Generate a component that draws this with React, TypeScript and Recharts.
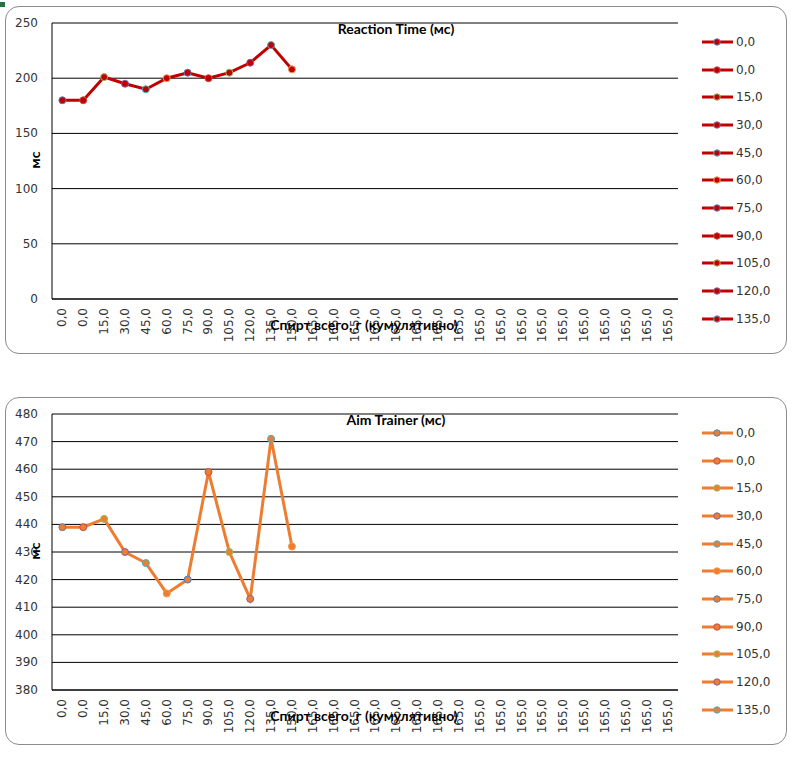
import { LineChart, Line, XAxis, YAxis, CartesianGrid, Legend } from 'recharts';

const categories = [
  '0,0', '0,0', '15,0', '30,0', '45,0', '60,0', '75,0', '90,0', '105,0', '120,0', '135,0', '150,0',
  '165,0', '165,0', '165,0', '165,0', '165,0', '165,0', '165,0', '165,0', '165,0',
  '165,0', '165,0', '165,0', '165,0', '165,0', '165,0', '165,0', '165,0', '165,0',
];

const legendLabels = ['0,0', '0,0', '15,0', '30,0', '45,0', '60,0', '75,0', '90,0', '105,0', '120,0', '135,0'];

const reactionTime = [180, 180, 201, 195, 190, 200, 205, 200, 205, 214, 230, 208];
const aimTrainer = [439, 439, 442, 430, 426, 415, 420, 459, 430, 413, 471, 432];

const reactionTicks = [0, 50, 100, 150, 200, 250];
const aimTicks = [380, 390, 400, 410, 420, 430, 440, 450, 460, 470, 480];

// excel "vary colors by point" border colours
const POINT_COLORS = ['#4F81BD', '#C0504D', '#9BBB59', '#8064A2', '#4BACC6', '#F79646'];

const TICK_FONT = '"DejaVu Sans", Verdana, sans-serif';
const TITLE_FONT = 'Lato, "Liberation Sans", sans-serif';

type CardProps = {
  top: number
  title: string
  values: number[]
  color: string
  domain: [number, number]
  ticks: number[]
}

const XTick = (props: any) => {
  const { x, y, payload } = props;
  return (
    <text x={x} y={y} transform={`rotate(-90, ${x}, ${y})`} textAnchor="end" dominantBaseline="central"
      fontSize={12} fontFamily={TICK_FONT} fill="#333">
      {payload.value}
    </text>
  );
}

const YTick = (props: any) => {
  const { x, y, payload } = props;
  return (
    <text x={x} y={y} textAnchor="end" dominantBaseline="central" fontSize={12} fontFamily={TICK_FONT} fill="#333">
      {payload.value}
    </text>
  );
}

const ChartCard = ({ top, title, values, color, domain, ticks }: CardProps) => {
  const data = categories.map((label, i) => ({ label, value: i < values.length ? values[i] : null }));

  const renderDot = (p: any) => {
    if (p.value == null || p.cx == null) return <g key={`d-${p.index}`} />;
    return (
      <circle key={`d-${p.index}`} cx={p.cx} cy={p.cy} r={3.5} fill={color}
        stroke={POINT_COLORS[p.index % POINT_COLORS.length]} strokeWidth={1} />
    );
  }

  const renderLegend = () => (
    <div>
      {legendLabels.map((lbl, i) => (
        <div key={i} style={{ height: 27.7, display: 'flex', alignItems: 'center' }}>
          <svg width={34} height={10} style={{ display: 'block' }}>
            <line x1={0} y1={5} x2={31} y2={5} stroke={color} strokeWidth={3} />
            <circle cx={15} cy={5} r={3.2} fill={color} stroke={POINT_COLORS[i % POINT_COLORS.length]} strokeWidth={1} />
          </svg>
          <span style={{ fontFamily: TICK_FONT, fontSize: 12, color: '#333' }}>{lbl}</span>
        </div>
      ))}
    </div>
  );

  const titleStyle = {
    fontFamily: TITLE_FONT, fontWeight: 'bold' as const, fontSize: 14, color: '#000', lineHeight: '16px',
  };

  return (
    <div style={{
      position: 'absolute', left: 5, top, width: 780, height: 346,
      border: '1px solid #8c8c8c', borderRadius: 14, background: '#fff',
    }}>
      <LineChart width={780} height={346} data={data} margin={{ top: 16, right: 108, left: 0, bottom: 0 }}>
        <CartesianGrid vertical={false} stroke="#000" strokeWidth={1} />
        <XAxis dataKey="label" interval={0} tickSize={0} tickMargin={9} tickLine={false}
          axisLine={{ stroke: '#000' }} height={54} padding={{ left: 10.4, right: 10.4 }} tick={<XTick />} />
        <YAxis type="number" domain={domain} ticks={ticks} width={46} tickSize={0} tickMargin={14}
          tickLine={false} axisLine={{ stroke: '#000' }} tick={<YTick />} />
        <Legend layout="vertical" align="center" verticalAlign="middle" content={renderLegend}
          wrapperStyle={{ left: 696, top: 21, width: 80 }} />
        <Line type="linear" dataKey="value" stroke={color} strokeWidth={3} dot={renderDot}
          activeDot={false} isAnimationActive={false} connectNulls={false} />
      </LineChart>
      <div style={{
        ...titleStyle, position: 'absolute', left: 0, width: '100%', top: 14, textAlign: 'center',
      }}>{title}</div>
      <div style={{
        ...titleStyle, position: 'absolute', left: 358, top: 318, transform: 'translate(-50%, -50%)', whiteSpace: 'nowrap',
      }}>Спирт всего, г (кумулятивно)</div>
      <div style={{
        ...titleStyle, position: 'absolute', left: 29, top: 153, transform: 'translate(-50%, -50%) rotate(-90deg)',
      }}>мс</div>
    </div>
  );
}

const App = () => {
  return (
    <div style={{ position: 'absolute', left: 0, top: 0, width: 800, height: 757, background: '#fff' }}>
      <div style={{ position: 'absolute', left: 0, top: 2, width: 5, height: 5, background: '#217346' }} />
      <ChartCard top={6} title="Reaction Time (мс)" values={reactionTime} color="#C00000"
        domain={[0, 250]} ticks={reactionTicks} />
      <ChartCard top={397} title="Aim Trainer (мс)" values={aimTrainer} color="#ED7D31"
        domain={[380, 480]} ticks={aimTicks} />
    </div>
  );
}

export default App
